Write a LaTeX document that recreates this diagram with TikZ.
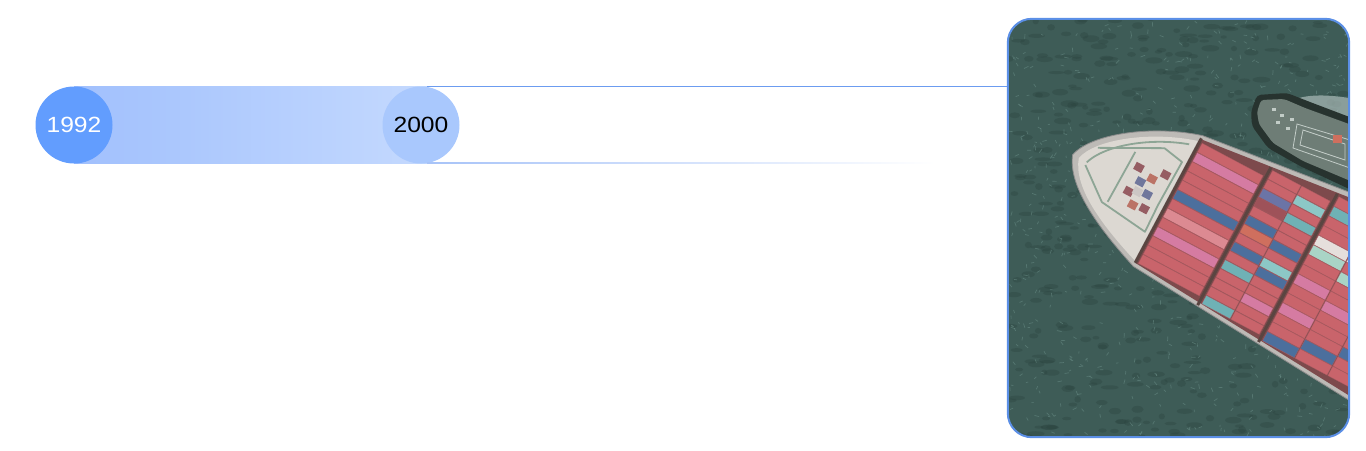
\documentclass[tikz,border=0pt]{standalone}
\usepackage{fontspec}
\setmainfont{Liberation Sans}
\usepackage{graphicx}
\usetikzlibrary{backgrounds}
\definecolor{circdark}{HTML}{629DFE}
\definecolor{circlight}{HTML}{A9C8FD}
\definecolor{barleft}{HTML}{A1C0FD}
\definecolor{barright}{HTML}{C4D9FE}
\definecolor{lineblue}{HTML}{6C9CF0}
\definecolor{fadeblue}{HTML}{A7C3F8}
\definecolor{framecol}{HTML}{5B8FE6}
\definecolor{water}{HTML}{3E5C57}
\definecolor{waterlight}{HTML}{6A8E87}
\definecolor{waterdark}{HTML}{2B433F}
\definecolor{rimcol}{HTML}{BDBAB6}
\definecolor{deckcol}{HTML}{DCD8D2}
\definecolor{pathcol}{HTML}{8DA595}
\definecolor{holdcol}{HTML}{7D4A4C}
\definecolor{hatchcol}{HTML}{5A4541}
\definecolor{crateedge}{HTML}{A85A60}
\definecolor{cred}{HTML}{C9646B}
\definecolor{cmagenta}{HTML}{D57BA2}
\definecolor{crose}{HTML}{DC8A92}
\definecolor{cblue}{HTML}{4C6F9D}
\definecolor{cteal}{HTML}{6FB1B5}
\definecolor{clteal}{HTML}{8CC7C6}
\definecolor{cmint}{HTML}{A9D4C6}
\definecolor{cwhite}{HTML}{E6DFDC}
\definecolor{corange}{HTML}{CF6F5E}
\definecolor{cdark}{HTML}{9E5259}
\definecolor{cpurple}{HTML}{6B74A6}
\definecolor{tugdark}{HTML}{27332F}
\definecolor{tugdeck}{HTML}{6E7D76}
\definecolor{tugline}{HTML}{C2CCC7}
\definecolor{wake}{HTML}{C9D6D3}
\newcommand{\yeartext}[1]{\scalebox{1.12}[1]{#1}}
\tikzset{
  yearcircle/.style={circle, minimum size=77pt, inner sep=0pt, font=\fontsize{22}{26}\selectfont},
  photobox/.style={rectangle, minimum width=341pt, minimum height=418pt, inner sep=0pt},
  topline/.style={draw=lineblue, line width=1.5pt},
  frameline/.style={draw=framecol, line width=2pt, rounded corners=24pt},
  crate/.style={draw=crateedge, line width=0.3pt},
  hatchline/.style={draw=hatchcol, line width=3pt},
  deckpath/.style={draw=pathcol, line width=1.8pt, line join=round},
}
\begin{document}
\begin{tikzpicture}[x=1pt, y=-1pt, node distance=347pt]
  \useasboundingbox (0,0) rectangle (1366,450);
  \node[yearcircle, fill=circdark, text=white] (y1992) at (74,125) {\yeartext{1992}};
  \node[yearcircle, fill=circlight, right of=y1992] (y2000) {\yeartext{2000}};
  \node[photobox] (photo) at (1178.5,228) {};
  \begin{pgfonlayer}{background}
    \shade[left color=barleft, right color=barright] (y1992.north) rectangle ([xshift=6pt]y2000.south);
  \end{pgfonlayer}
  \coordinate (fadeend) at (935,162);
  \draw[topline] ([xshift=6pt]y2000.north) -- (y2000.north -| photo.west);
  \shade[left color=fadeblue, right color=white] ([xshift=6pt]y2000.south) rectangle (fadeend);
  \begin{scope}
    \clip[rounded corners=24pt] (photo.south west) rectangle (photo.north east);
    \fill[water] (photo.south west) rectangle (photo.north east);
    \pgfmathsetseed{2024}
    \foreach \k in {1,...,500}{
      \pgfmathsetmacro{\wx}{1008+341*rnd}
      \pgfmathsetmacro{\wy}{19+418*rnd}
      \fill[waterdark, opacity=0.35] (\wx,\wy) ellipse ({3+6*rnd} and {1.5+2*rnd});
    }
    \foreach \k in {1,...,700}{
      \pgfmathsetmacro{\wx}{1008+341*rnd}
      \pgfmathsetmacro{\wy}{19+418*rnd}
      \draw[waterlight, line width=0.7pt, opacity=0.55] (\wx,\wy) -- ++({360*rnd}:{2+3*rnd});
    }
    \fill[wake, opacity=0.55] (1293,100) .. controls (1310,93) and (1335,95) .. (1360,100)
      -- (1360,122) .. controls (1340,113) and (1315,107) .. (1293,100);
    \fill[tugdark, rounded corners=4pt] (1251,112) -- (1257,95) -- (1287,93) -- (1310,102)
      -- (1360,121) -- (1360,194) -- (1300,166) -- (1268,148) -- (1252,126) -- cycle;
    \fill[tugdeck, rounded corners=3pt] (1257,112) -- (1261,100) -- (1284,99) -- (1305,108)
      -- (1360,128) -- (1360,185) -- (1303,161) -- (1273,143) -- (1259,124) -- cycle;
    \draw[tugline, line width=0.8pt] (1297,124) -- (1350,140) -- (1350,168) -- (1293,148) -- cycle;
    \draw[tugline, line width=0.8pt] (1303,130) -- (1345,144) -- (1345,160) -- (1300,145) -- cycle;
    \fill[corange] (1333,135) rectangle (1342,143);
    \foreach \p in {(1272,108),(1280,114),(1286,127),(1276,121),(1290,118)}
      \fill[tugline] \p rectangle ++(4,3);
    \begin{scope}[shift={(1200,141)}, rotate=-28]
      \filldraw[fill=rimcol, draw=black!45, line width=0.8pt] (0,-6) -- (330,-46) -- (330,164) -- (0,142)
        .. controls (-50,124) and (-95,102) .. (-106,72)
        .. controls (-100,45) and (-50,8) .. (0,-6) -- cycle;
      \fill[deckcol] (-2,1) .. controls (-48,14) and (-94,48) .. (-99,72)
        .. controls (-90,100) and (-48,120) .. (-2,136) -- cycle;
      \draw[deckpath] (-87,54) -- (-28,23) -- (-6,27) -- (-7,76) -- (-6,106) -- (-58,100) -- (-90,75);
      \draw[deckpath] (-52,40) -- (-53,97);
      \draw[deckpath] (-8,8) .. controls (-45,20) and (-82,48) .. (-90,72);
      \foreach \p/\c in {(-46,48)/cdark, (-38,60)/cpurple, (-29,52)/corange, (-44,74)/cdark,
                         (-26,68)/cpurple, (-34,84)/corange, (-19,42)/cdark, (-36,70)/cwhite, (-22,82)/cdark}
        \fill[\c!75!gray] \p rectangle ++(9,8);
      \fill[holdcol] (0,-2) -- (330,-40) -- (330,160) -- (0,138) -- cycle;
      \foreach \c [count=\i from 0] in {cred,cmagenta,cred,cred,cred,cblue,cred,crose,cred,cmagenta,cred,cred,cred}
        \filldraw[crate, fill=\c] (3,{1+10.5*\i}) rectangle (72,{11+10.5*\i});
      \foreach \c [count=\i from 0] in {cred,cred,cpurple,cdark,cred,cblue,corange,cred,cblue,cred,cteal,cred,cred,cred,cteal}
        \filldraw[crate, fill=\c] (78,{-8+10.1*\i}) rectangle (110,{1.5+10.1*\i});
      \foreach \c [count=\i from 0] in {cred,clteal,cred,cteal,cred,cred,cblue,cred,clteal,cblue,cred,cred,cmagenta,cred,cred}
        \filldraw[crate, fill=\c] (111,{-8+10.1*\i}) rectangle (143,{1.5+10.1*\i});
      \foreach \c [count=\i from 0] in {cred,cteal,cred,cred,cwhite,cmint,cred,cred,cmagenta,cred,cred,cmagenta,cred,cred,cblue}
        \filldraw[crate, fill=\c] (149,{-16+10.9*\i}) rectangle (185,{-5.5+10.9*\i});
      \foreach \c [count=\i from 0] in {cred,cred,clteal,cred,cwhite,cred,cmint,cred,cred,cmagenta,cred,cred,cred,cblue,cred}
        \filldraw[crate, fill=\c] (186,{-16+10.9*\i}) rectangle (222,{-5.5+10.9*\i});
      \foreach \c [count=\i from 0] in {cred,cwhite,cred,cteal,cred,cred,cmagenta,cred,cwhite,cred,cred,cred,cblue,cred,cred}
        \filldraw[crate, fill=\c] (223,{-16+10.9*\i}) rectangle (260,{-5.5+10.9*\i});
      \draw[hatchline] (0,-3) -- (0,138);
      \draw[hatchline] (75,-10) -- (75,146);
      \draw[hatchline] (146,-18) -- (146,150);
    \end{scope}
  \end{scope}
  \draw[frameline] (photo.south west) rectangle (photo.north east);
\end{tikzpicture}
\end{document}
